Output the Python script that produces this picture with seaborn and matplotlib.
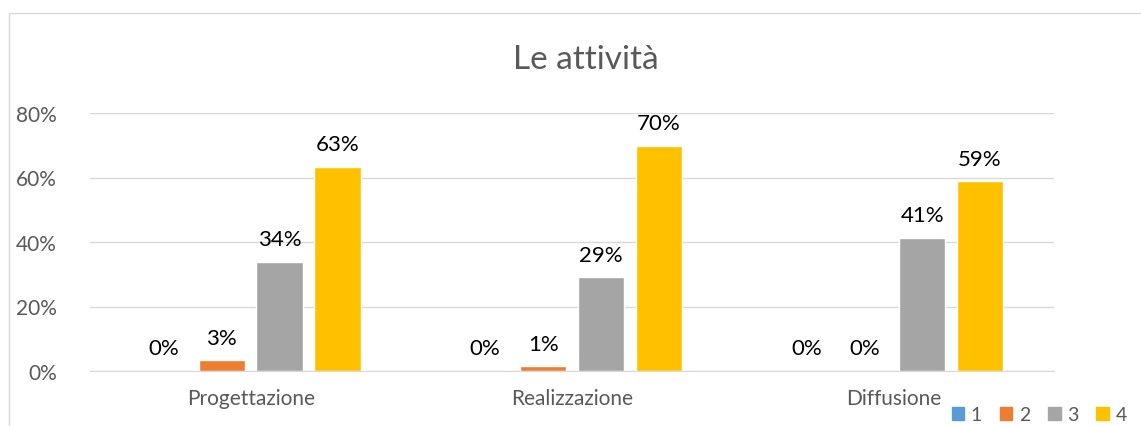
import matplotlib
matplotlib.use("Agg")
import matplotlib.pyplot as plt
import matplotlib.patches as mpatches
import matplotlib.ticker as mticker
import pandas as pd
import seaborn as sns

# Chart data
categories = ["Progettazione", "Realizzazione", "Diffusione"]
series = ["1", "2", "3", "4"]
val_1 = [0.0, 0.0, 0.0]
val_2 = [0.034, 0.015, 0.0]
val_3 = [0.338, 0.291, 0.413]
val_4 = [0.634, 0.698, 0.589]
labels_1 = ["0%", "0%", "0%"]
labels_2 = ["3%", "1%", "0%"]
labels_3 = ["34%", "29%", "41%"]
labels_4 = ["63%", "70%", "59%"]

COLORS = ["#5B9BD5", "#ED7D31", "#A5A5A5", "#FFC000"]
C_TEXT = "#595959"

rows = []
for s, vals in zip(series, [val_1, val_2, val_3, val_4]):
    for c, v in zip(categories, vals):
        rows.append({"cat": c, "serie": s, "val": v})
df = pd.DataFrame(rows)

sns.set_style("white")
plt.rcParams["font.family"] = ["Lato", "DejaVu Sans"]

fig = plt.figure(figsize=(11.41, 4.27), dpi=100)
ax = fig.add_axes([90 / 1141, 1 - 372 / 427, (1054 - 90) / 1141, (372 - 114) / 427])

sns.barplot(data=df, x="cat", y="val", hue="serie", palette=COLORS, saturation=1,
            width=0.72, gap=0.2, ax=ax, legend=False)

for cont, labs in zip(ax.containers, [labels_1, labels_2, labels_3, labels_4]):
    ax.bar_label(cont, labels=labs, padding=9, fontsize=16, color="black")

ax.set_ylim(0, 0.8)
ax.set_yticks([0, 0.2, 0.4, 0.6, 0.8])
ax.yaxis.set_major_formatter(mticker.PercentFormatter(1.0, decimals=0))
ax.grid(axis="y", color="#D9D9D9", linewidth=1)
ax.set_axisbelow(True)
for sp in ["top", "right", "left"]:
    ax.spines[sp].set_visible(False)
ax.spines["bottom"].set_color("#D9D9D9")
ax.tick_params(axis="both", length=0, labelsize=15, labelcolor=C_TEXT)
ax.tick_params(axis="y", pad=24)
ax.tick_params(axis="x", pad=12)
ax.set_xlabel("")
ax.set_ylabel("")

fig.text(586 / 1141, 1 - 60 / 427, "Le attività", ha="center", va="center",
         fontsize=24, color=C_TEXT)

handles = [mpatches.Patch(color=c, label=s) for c, s in zip(COLORS, series)]
fig.legend(handles=handles, loc="lower right", bbox_to_anchor=(1.003, -0.035), ncol=4,
           frameon=False, fontsize=14, labelcolor=C_TEXT, handlelength=0.65,
           handleheight=0.65, handletextpad=0.35, columnspacing=0.9)

# chart area border
fig.patches.append(mpatches.Rectangle((9 / 1141, -0.1), 1.2, 1 - 14 / 427 + 0.1,
                                      transform=fig.transFigure, fill=False,
                                      edgecolor="#D9D9D9", linewidth=1))

fig.savefig("out.png", dpi=100)
